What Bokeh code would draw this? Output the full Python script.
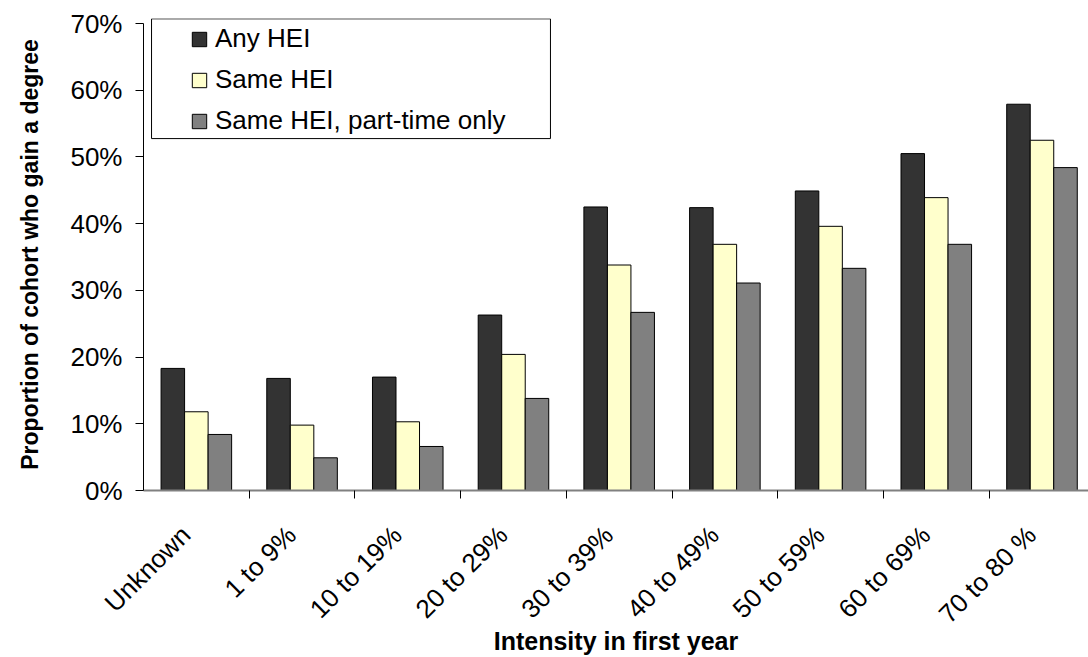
from bokeh.plotting import figure
from bokeh.models import (Range1d, FixedTicker, PrintfTickFormatter, Legend, LegendItem,
                          BoxAnnotation, ColumnDataSource)
from bokeh.embed import file_html
from bokeh.resources import INLINE
import math

categories = ["Unknown", "1 to 9%", "10 to 19%", "20 to 29%", "30 to 39%",
              "40 to 49%", "50 to 59%", "60 to 69%", "70 to 80 %"]
any_hei = [18.3, 16.8, 17.0, 26.3, 42.5, 42.4, 44.9, 50.5, 57.9]
same_hei = [11.8, 9.8, 10.3, 20.4, 33.8, 36.9, 39.6, 43.9, 52.5]
part_time = [8.4, 4.9, 6.6, 13.8, 26.7, 31.1, 33.3, 36.9, 48.4]
series_names = ["Any HEI", "Same HEI", "Same HEI, part-time only"]
y_ticks = [0, 10, 20, 30, 40, 50, 60, 70]

colors = ["#333333", "#FFFFCC", "#808080"]
FONT = "Liberation Sans"

p = figure(width=1088, height=657, output_backend="svg", toolbar_location=None,
           x_range=Range1d(0, 8.94), y_range=Range1d(0, 70.75),
           min_border_left=143, min_border_right=0, min_border_top=18, min_border_bottom=167)
p.outline_line_color = None
p.xgrid.visible = False
p.ygrid.visible = False
p.background_fill_color = "white"
p.border_fill_color = "white"

bw = 0.2225
idx = list(range(len(categories)))
renderers = []
for k, vals in enumerate([any_hei, same_hei, part_time]):
    src = ColumnDataSource(dict(x=[i + 0.5 + (k - 1) * bw for i in idx], top=vals))
    r = p.vbar(x="x", top="top", width=bw, bottom=0, source=src,
               fill_color=colors[k], line_color="black", line_width=1)
    renderers.append(r)

# y axis
yax = p.yaxis[0]
yax.ticker = FixedTicker(ticks=y_ticks)
yax.bounds = (0, 70)
yax.formatter = PrintfTickFormatter(format="%d%%")
yax.major_tick_out = 8
yax.major_tick_in = 0
yax.minor_tick_out = 0
yax.minor_tick_in = 0
yax.axis_line_color = "black"
yax.major_tick_line_color = "black"
yax.major_label_text_font = FONT
yax.major_label_text_font_size = "26px"
yax.major_label_text_color = "black"
yax.major_label_standoff = 13
yax.axis_label = "Proportion of cohort who gain a degree"
yax.axis_label_text_font = FONT
yax.axis_label_text_font_size = "23px"
yax.axis_label_text_font_style = "bold"
yax.axis_label_text_color = "black"
yax.axis_label_standoff = 24

# x axis
xax = p.xaxis[0]
label_pos = [i + 0.40 for i in idx]
xax.ticker = FixedTicker(ticks=label_pos, minor_ticks=[i for i in range(1, len(categories))])
xax.major_label_overrides = {lp: c for lp, c in zip(label_pos, categories)}
xax.major_tick_out = 0
xax.major_tick_in = 0
xax.minor_tick_out = 8
xax.minor_tick_in = 0
xax.minor_tick_line_color = "black"
xax.axis_line_color = "#808080"
xax.axis_line_width = 2
xax.major_label_orientation = math.pi / 4
xax.major_label_text_font = FONT
xax.major_label_text_font_size = "26px"
xax.major_label_text_color = "black"
xax.major_label_standoff = 32
xax.axis_label = "Intensity in first year"
xax.axis_label_text_font = FONT
xax.axis_label_text_font_size = "25px"
xax.axis_label_text_font_style = "bold"
xax.axis_label_text_color = "black"
xax.axis_label_standoff = -16

# legend frame
p.add_layout(BoxAnnotation(left=0.076, right=3.85, bottom=52.75, top=70.7,
                           fill_alpha=0, line_color="black", line_width=1, line_alpha=1))

legend = Legend(items=[LegendItem(label=n, renderers=[r]) for n, r in zip(series_names, renderers)],
                location=(47, 354), padding=0, margin=0, spacing=10,
                glyph_width=18, glyph_height=18, label_height=30, label_standoff=7,
                label_text_font=FONT, label_text_font_size="26px", label_text_color="black",
                border_line_alpha=0, background_fill_alpha=0)
p.add_layout(legend)

open("out.html", "w").write(file_html(p, INLINE))
